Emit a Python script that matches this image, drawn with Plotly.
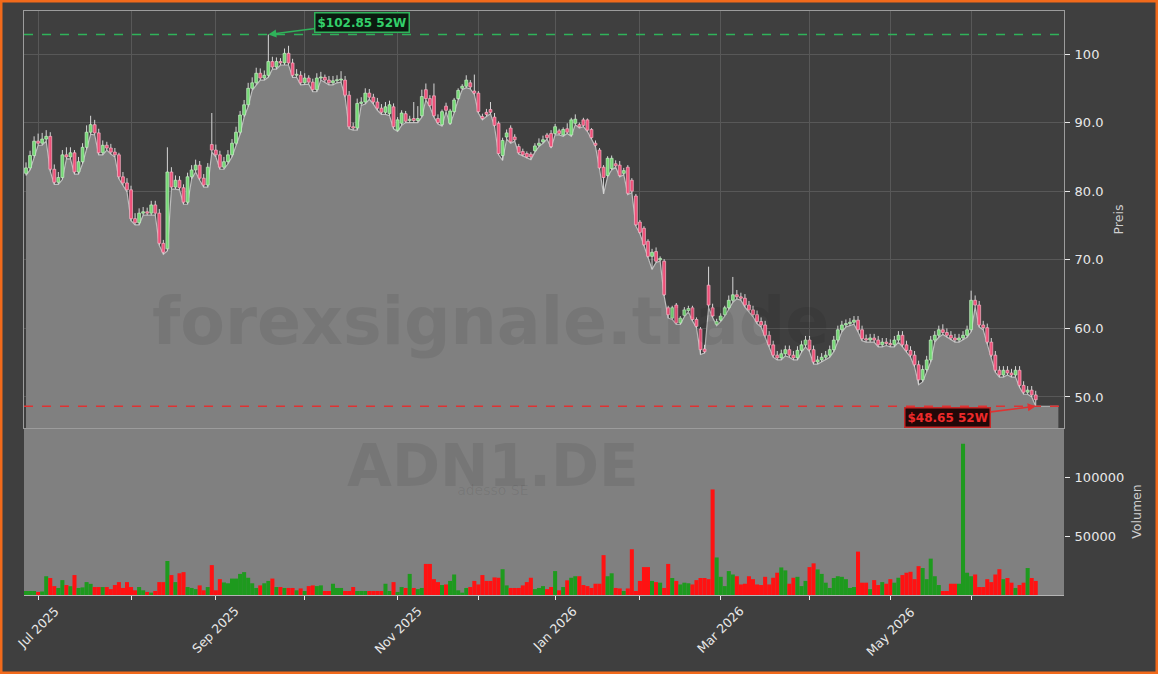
import numpy as np
import pandas as pd
import plotly.graph_objects as go

TICKER = "ADN1.DE"
COMPANY = "adesso SE"
WATERMARK = "forexsignale.trade"
START_DATE = "2025-06-26"
HOLIDAYS = ["2025-12-24", "2025-12-25", "2025-12-26", "2025-12-31",
            "2026-01-01", "2026-04-03", "2026-04-06", "2026-05-01"]

opens = [
    82.6, 83.4, 85.2, 87.3, 87.0, 87.6, 88.0, 83.2, 81.3, 82.0,
    85.3, 85.0, 85.6, 82.8, 84.3, 86.4, 88.6, 89.7, 88.5, 85.6,
    86.7, 86.3, 85.7, 85.3, 82.1, 81.2, 80.2, 76.0, 75.4, 76.8,
    77.0, 76.8, 78.0, 76.8, 72.4, 71.6, 82.8, 80.6, 81.6, 80.5,
    78.4, 82.1, 83.1, 83.8, 81.9, 80.9, 86.8, 86.0, 85.3, 83.5,
    84.3, 85.3, 87.0, 88.6, 91.1, 92.6, 95.0, 95.8, 97.2, 96.5,
    96.9, 98.9, 98.1, 98.9, 98.7, 100.1, 98.7, 96.9, 96.9, 95.8,
    96.5, 95.9, 94.8, 96.5, 96.6, 96.2, 95.8, 96.1, 96.2, 96.2,
    94.0, 89.4, 89.2, 92.8, 93.0, 94.3, 93.7, 93.0, 92.1, 91.5,
    91.3, 92.3, 88.9, 89.9, 91.3, 90.3, 90.6, 90.3, 91.0, 94.8,
    93.5, 93.9, 90.6, 89.7, 92.4, 89.9, 91.6, 93.5, 95.0, 95.3,
    95.8, 94.6, 94.3, 90.9, 91.5, 91.9, 90.8, 89.9, 85.2, 87.9,
    89.2, 87.9, 86.5, 85.8, 85.5, 85.4, 85.9, 86.7, 87.2, 88.2,
    88.4, 88.4, 88.8, 88.2, 89.1, 88.2, 89.9, 89.7, 90.4, 90.4,
    89.0, 87.0, 86.0, 83.5, 82.3, 83.3, 84.0, 83.8, 82.6, 83.5,
    81.6, 79.3, 75.5, 74.6, 72.7, 70.5, 71.2, 70.0, 69.8, 63.0,
    61.5, 63.4, 60.8, 61.9, 62.6, 63.0, 61.3, 59.9, 57.0, 66.3,
    63.0, 60.6, 61.2, 62.0, 63.0, 64.1, 64.9, 64.6, 64.4, 63.4,
    62.7, 62.0, 61.0, 60.5, 59.0, 57.6, 56.1, 55.7, 56.3, 56.9,
    56.1, 55.7, 56.8, 57.6, 58.3, 56.9, 55.1, 55.4, 55.8, 56.1,
    56.9, 58.3, 59.8, 60.5, 60.7, 60.9, 61.2, 59.8, 58.5, 58.3,
    58.6, 58.3, 57.6, 58.0, 57.8, 57.6, 58.3, 59.0, 57.6, 56.8,
    56.1, 54.7, 52.5, 54.0, 55.4, 58.3, 59.0, 59.8, 59.4, 59.0,
    58.6, 58.3, 58.6, 59.0, 59.8, 64.1, 63.4, 60.5, 60.1, 58.0,
    56.1, 53.9, 53.2, 53.9, 53.5, 53.2, 53.9, 51.7, 50.7, 51.0,
    50.3,
]

highs = [
    84.2, 85.9, 88.0, 88.4, 88.5, 88.9, 88.6, 83.9, 82.8, 86.0,
    86.4, 86.4, 86.0, 85.0, 87.0, 89.6, 91.0, 90.4, 89.1, 87.4,
    87.2, 86.9, 86.3, 85.6, 82.8, 81.9, 80.8, 76.8, 77.5, 77.7,
    77.6, 78.6, 78.6, 77.4, 72.9, 86.4, 83.5, 82.3, 82.2, 81.0,
    82.7, 83.8, 84.6, 84.4, 82.5, 84.1, 91.4, 86.8, 85.9, 85.0,
    86.0, 87.6, 89.4, 91.7, 93.3, 95.8, 96.6, 98.0, 97.9, 97.6,
    102.85, 99.6, 99.5, 99.4, 100.8, 101.2, 99.3, 97.8, 97.5, 97.2,
    96.9, 96.4, 97.2, 97.4, 97.0, 96.8, 96.8, 96.9, 97.5, 96.8,
    94.6, 90.0, 93.5, 93.7, 95.0, 94.9, 94.2, 93.6, 92.7, 93.0,
    93.2, 92.8, 90.8, 91.8, 91.7, 91.0, 93.0, 92.4, 94.8, 95.7,
    94.0, 95.7, 91.2, 91.9, 92.9, 92.0, 93.6, 95.0, 95.6, 96.9,
    96.2, 97.0, 94.6, 91.3, 92.0, 93.0, 91.4, 90.2, 87.8, 89.0,
    89.6, 88.3, 86.9, 86.2, 85.8, 85.7, 87.0, 87.7, 88.1, 88.5,
    88.9, 89.8, 89.1, 89.3, 89.9, 90.7, 91.2, 90.0, 90.7, 90.6,
    89.2, 87.4, 86.3, 83.8, 85.1, 85.2, 84.5, 84.4, 83.4, 83.8,
    81.9, 79.6, 75.8, 74.9, 73.0, 71.6, 71.8, 70.5, 70.1, 63.3,
    63.3, 63.7, 61.8, 63.1, 63.3, 63.3, 61.6, 60.2, 57.6, 69.0,
    63.6, 61.4, 62.2, 63.3, 64.8, 67.5, 65.6, 65.2, 65.0, 64.0,
    63.3, 62.6, 61.6, 61.1, 59.6, 58.2, 56.7, 56.9, 57.5, 57.5,
    56.7, 57.4, 58.2, 58.9, 58.9, 57.5, 56.0, 56.4, 56.7, 57.5,
    58.9, 60.4, 61.1, 61.3, 61.5, 61.8, 61.8, 60.4, 59.1, 59.2,
    59.2, 58.9, 58.6, 58.6, 58.4, 58.9, 59.6, 59.6, 58.2, 57.4,
    56.7, 55.3, 54.6, 56.0, 58.9, 59.6, 60.4, 60.6, 60.0, 59.6,
    59.2, 59.2, 59.6, 60.4, 65.5, 64.8, 64.0, 61.1, 60.7, 58.6,
    56.7, 54.5, 54.5, 54.5, 54.1, 54.5, 54.5, 52.3, 51.6, 51.6,
    50.9,
]

lows = [
    82.3, 83.1, 84.9, 86.7, 86.7, 87.3, 82.9, 81.0, 81.0, 81.7,
    84.7, 84.7, 82.5, 82.5, 84.0, 86.1, 88.3, 88.2, 85.3, 85.3,
    86.0, 85.4, 85.0, 81.8, 80.9, 79.9, 75.7, 75.1, 75.1, 76.5,
    76.5, 76.5, 76.5, 72.1, 70.8, 71.3, 80.3, 80.3, 80.2, 78.1,
    78.1, 81.8, 82.8, 81.6, 80.6, 80.6, 85.7, 85.0, 83.2, 83.2,
    84.0, 85.0, 86.7, 88.3, 90.8, 92.3, 94.7, 95.5, 96.2, 96.2,
    96.6, 97.8, 97.8, 98.4, 98.4, 98.4, 96.6, 96.6, 95.5, 95.5,
    95.6, 94.5, 94.5, 96.2, 95.9, 95.5, 95.5, 95.8, 95.9, 93.7,
    89.1, 88.9, 88.9, 92.5, 92.7, 93.4, 92.7, 91.8, 91.2, 91.2,
    91.0, 89.1, 88.7, 89.6, 90.0, 90.0, 90.0, 90.0, 90.8, 93.3,
    92.3, 90.8, 89.8, 89.5, 91.6, 89.7, 91.4, 93.3, 94.8, 95.1,
    94.9, 94.1, 91.4, 90.4, 90.9, 91.3, 89.4, 85.3, 84.5, 87.6,
    87.0, 87.3, 85.4, 85.1, 84.8, 84.6, 85.7, 86.5, 87.0, 87.6,
    86.3, 88.2, 88.2, 88.0, 88.4, 88.0, 89.7, 89.2, 89.4, 88.7,
    87.6, 86.5, 83.2, 79.6, 82.1, 83.1, 83.5, 82.1, 82.4, 79.5,
    79.8, 74.9, 73.8, 72.0, 70.3, 68.6, 69.6, 69.8, 64.7, 61.5,
    61.3, 60.6, 60.6, 61.7, 62.4, 61.1, 60.1, 56.2, 56.4, 63.0,
    61.6, 60.4, 61.0, 61.8, 62.8, 63.8, 64.3, 64.1, 63.1, 62.4,
    61.7, 60.7, 60.2, 58.7, 57.3, 55.8, 55.4, 55.4, 56.0, 55.8,
    55.4, 55.4, 56.5, 57.3, 56.6, 54.8, 54.8, 55.1, 55.5, 55.8,
    56.6, 58.0, 59.5, 60.2, 60.4, 60.6, 59.5, 58.2, 58.0, 58.0,
    58.0, 57.3, 57.3, 57.5, 57.3, 57.3, 58.0, 57.3, 56.5, 55.8,
    54.4, 51.8, 52.2, 53.7, 55.1, 58.0, 58.7, 59.1, 58.7, 58.3,
    58.0, 58.0, 58.3, 58.7, 59.5, 63.1, 60.2, 59.8, 57.7, 55.8,
    53.6, 52.9, 52.9, 53.2, 52.9, 52.9, 51.4, 50.4, 50.4, 50.0,
    48.65,
]

closes = [
    83.4, 85.2, 87.3, 87.0, 87.6, 88.0, 83.2, 81.3, 82.0, 85.3,
    85.0, 85.6, 82.8, 84.3, 86.4, 88.6, 89.7, 88.5, 85.6, 86.7,
    86.3, 85.7, 85.3, 82.1, 81.2, 80.2, 76.0, 75.4, 76.8, 77.0,
    76.8, 78.0, 76.8, 72.4, 71.1, 82.8, 80.6, 81.6, 80.5, 78.4,
    82.1, 83.1, 83.8, 81.9, 80.9, 83.5, 86.0, 85.3, 83.5, 84.3,
    85.3, 87.0, 88.6, 91.1, 92.6, 95.0, 95.8, 97.2, 96.5, 96.9,
    98.9, 98.1, 98.9, 98.7, 100.1, 98.7, 96.9, 96.9, 95.8, 96.5,
    95.9, 94.8, 96.5, 96.6, 96.2, 95.8, 96.1, 96.2, 96.2, 94.0,
    89.4, 89.2, 92.8, 93.0, 94.3, 93.7, 93.0, 92.1, 91.5, 92.3,
    92.6, 89.4, 90.4, 91.4, 90.2, 90.5, 90.3, 90.6, 93.8, 93.5,
    92.5, 91.0, 90.0, 91.6, 91.8, 91.7, 93.3, 94.7, 95.3, 96.2,
    95.2, 94.3, 91.6, 90.6, 91.2, 91.5, 89.6, 85.5, 87.4, 88.5,
    87.2, 87.5, 85.6, 85.3, 85.0, 85.0, 86.6, 87.0, 87.5, 87.8,
    86.5, 89.4, 88.4, 89.0, 88.6, 90.4, 90.5, 89.4, 89.6, 88.9,
    87.8, 86.7, 83.4, 82.0, 84.8, 84.8, 83.7, 82.3, 83.0, 79.7,
    80.0, 75.1, 74.0, 72.2, 70.5, 71.1, 69.8, 70.2, 64.9, 62.0,
    63.0, 60.8, 61.5, 62.7, 62.9, 61.3, 60.3, 56.9, 56.6, 63.4,
    61.8, 61.0, 61.8, 63.0, 64.1, 64.9, 64.6, 64.4, 63.4, 62.7,
    62.0, 61.0, 60.5, 59.0, 57.6, 56.1, 55.7, 56.3, 56.9, 56.1,
    55.7, 56.8, 57.6, 58.3, 56.9, 55.1, 55.4, 55.8, 56.1, 56.9,
    58.3, 59.8, 60.5, 60.7, 60.9, 61.2, 59.8, 58.5, 58.3, 58.6,
    58.3, 57.6, 58.0, 57.8, 57.6, 58.3, 59.0, 57.6, 56.8, 56.1,
    54.7, 52.5, 54.0, 55.4, 58.3, 59.0, 59.8, 59.4, 59.0, 58.6,
    58.3, 58.6, 59.0, 59.8, 64.1, 63.4, 60.5, 60.1, 58.0, 56.1,
    53.9, 53.2, 53.9, 53.5, 53.2, 53.9, 51.7, 50.7, 51.0, 50.3,
    49.6,
]

volumes = [
    3400, 3400, 3400, 2600, 3000, 16000, 14500, 7600, 6000, 12700,
    8500, 7500, 17000, 6000, 6500, 11000, 9500, 6800, 6800, 6800,
    6800, 5000, 8500, 11000, 6000, 11000, 6800, 4000, 6800, 4000,
    2600, 2000, 3400, 11000, 11000, 29000, 17000, 11000, 18500, 19500,
    6800, 6000, 5000, 8200, 4000, 6800, 25500, 4000, 13500, 10700,
    10000, 14000, 14000, 18000, 19500, 14700, 10000, 6000, 8200, 10000,
    12000, 14000, 6800, 6800, 6000, 6000, 6000, 4000, 5600, 3400,
    7600, 8200, 7600, 8200, 3400, 3400, 9600, 6000, 6000, 3400,
    3400, 6800, 3400, 3400, 3400, 3400, 3400, 3400, 3400, 9600,
    3400, 11000, 2600, 6800, 6000, 18000, 6000, 5000, 6000, 26500,
    26500, 13500, 11000, 8500, 9000, 12000, 17500, 4000, 2000, 6000,
    6800, 12000, 9000, 17000, 12000, 12000, 15000, 14700, 22000, 8200,
    6000, 6000, 6000, 8200, 11000, 14700, 5000, 6000, 7600, 5000,
    6800, 20400, 4000, 6800, 12500, 14700, 16000, 16000, 8500, 7600,
    6000, 9600, 9600, 34000, 16000, 18500, 6000, 5600, 3400, 5600,
    39000, 3400, 12000, 23800, 23800, 12000, 11000, 10500, 6000, 26500,
    14500, 12000, 9000, 10500, 10000, 9000, 12700, 14500, 14500, 13500,
    90000, 32000, 15500, 7600, 20400, 17500, 16000, 9000, 9600, 16000,
    13500, 9000, 8500, 15500, 9000, 14700, 19000, 23500, 21000, 9600,
    14700, 15500, 7600, 12000, 23800, 27000, 21800, 18000, 10500, 6000,
    14500, 16000, 15500, 13500, 6000, 6800, 37000, 10500, 10500, 5000,
    12700, 8500, 11000, 9600, 13500, 10500, 14700, 17000, 19000, 19800,
    13500, 24600, 23000, 13500, 31000, 16000, 8500, 3400, 3400, 9600,
    9600, 9600, 129000, 19000, 16000, 17500, 6800, 6800, 13500, 11000,
    17500, 22000, 13500, 14500, 10500, 6000, 8500, 10500, 23000, 14500,
    12000,
]

PRICE_TICKS = [50, 60, 70, 80, 90, 100]
PRICE_TICK_TEXT = ["50.0", "60.0", "70.0", "80.0", "90.0", "100"]
VOL_TICKS = [50000, 100000]
VOL_TICK_TEXT = ["50000", "100000"]

# ---------------------------------------------------------------------------
n = min(len(opens), len(highs), len(lows), len(closes), len(volumes))
o = np.array(opens[:n]); h = np.array(highs[:n]); l = np.array(lows[:n])
c = np.array(closes[:n]); v = np.array(volumes[:n])
idx = np.arange(n)

days = pd.bdate_range(START_DATE, periods=n + 5, freq="C",
                      holidays=pd.to_datetime(HOLIDAYS))[:n]
month_idx, month_txt = [], []
for i in range(1, n):
    if days[i].month != days[i - 1].month:
        month_idx.append(i)
        month_txt.append(days[i].strftime("%b %Y") if days[i].month % 2 == 1 else "")

hi_val = float(h.max()); hi_i = int(h.argmax())
lo_val = float(l.min()); lo_i = int(l.argmin())

BG = "#3f3f3f"
GRID = "#585858"
TXT = "#e8e8e8"
XR = [-0.5, n + 6.0]

XD = [24 / 1158, 1064 / 1158]
PY = [1 - 428 / 674, 1 - 11 / 674]
VY = [1 - 595 / 674, 1 - 428 / 674]

up = c >= o

fig = go.Figure()

# grey area under the lows
fx = list(idx) + [n + 4.6]
fy = list(l) + [lo_val]
fig.add_trace(go.Scatter(x=fx, y=fy, mode="lines", fill="tozeroy",
                         fillcolor="#808080", line=dict(color="#bdbdbd", width=1.2),
                         hoverinfo="skip", xaxis="x", yaxis="y"))

# wicks
wx, wy = [], []
for i in range(n):
    wx += [i, i, None]
    wy += [l[i], h[i], None]
fig.add_trace(go.Scatter(x=wx, y=wy, mode="lines", line=dict(color="#d6d6d6", width=1),
                         hoverinfo="skip", xaxis="x", yaxis="y"))

# candle bodies (filled rectangles)
HW = 0.36
for mask, fill, edge in [(up, "#74d874", "#c6eec6"), (~up, "#ee4f78", "#f4b6c6")]:
    bx, by = [], []
    for i in idx[mask]:
        b0 = min(o[i], c[i]); b1 = max(o[i], c[i])
        if b1 - b0 < 0.15:
            b1 = b0 + 0.15
        bx += [i - HW, i + HW, i + HW, i - HW, i - HW, None]
        by += [b0, b0, b1, b1, b0, None]
    fig.add_trace(go.Scatter(x=bx, y=by, mode="lines", fill="toself", fillcolor=fill,
                             line=dict(color=edge, width=0.7), hoverinfo="skip",
                             xaxis="x", yaxis="y"))

vcol = np.where(up, "#1e9a1e", "#ff1212")
fig.add_trace(go.Bar(x=idx, y=v, marker=dict(color=list(vcol), line=dict(width=0)),
                     width=1.0, xaxis="x2", yaxis="y2"))

shapes = [
    dict(type="rect", xref="x2 domain", yref="y2 domain", x0=0, x1=1, y0=0, y1=1,
         fillcolor="#808080", line=dict(width=0), layer="below"),
    dict(type="line", xref="x domain", yref="y", x0=0, x1=1, y0=hi_val, y1=hi_val,
         line=dict(color="#2fb35a", width=1.5, dash="dash")),
    dict(type="line", xref="x domain", yref="y", x0=0, x1=1, y0=lo_val, y1=lo_val,
         line=dict(color="#e03232", width=1.5, dash="dash")),
    dict(type="rect", xref="paper", yref="paper", x0=0, x1=1, y0=0, y1=1,
         line=dict(color="#f26a1b", width=5), fillcolor="rgba(0,0,0,0)", layer="above"),
]

annotations = [
    dict(text="<b>" + WATERMARK + "</b>", xref="paper", yref="paper", x=490 / 1158,
         y=1 - 322 / 674, xanchor="center", yanchor="middle", showarrow=False,
         font=dict(size=65, color="rgba(0,0,0,0.08)", family="DejaVu Sans")),
    dict(text="<span style='font-size:58px'><b>" + TICKER + "</b></span><br>"
              "<span style='font-size:14px'>" + COMPANY + "</span>",
         xref="paper", yref="paper", x=493 / 1158, y=1 - 466 / 674,
         xanchor="center", yanchor="middle", showarrow=False,
         font=dict(size=7, color="rgba(0,0,0,0.08)", family="DejaVu Sans")),
    dict(text="<b>$%.2f 52W</b>" % hi_val, x=hi_i, y=hi_val, xref="x", yref="y",
         ax=94, ay=-12, showarrow=True, arrowhead=2, arrowsize=1, arrowwidth=1.6,
         arrowcolor="#2fb35a", font=dict(size=12, color="#33d06a", family="DejaVu Sans"),
         bgcolor="#0c1a10", bordercolor="#2fb35a", borderwidth=1.5, borderpad=2),
    dict(text="<b>$%.2f 52W</b>" % lo_val, x=lo_i, y=lo_val, xref="x", yref="y",
         ax=-88, ay=11, showarrow=True, arrowhead=2, arrowsize=1, arrowwidth=1.6,
         arrowcolor="#e03232", font=dict(size=12, color="#ee2a2a", family="DejaVu Sans"),
         bgcolor="#220808", bordercolor="#c82828", borderwidth=1.5, borderpad=2),
]
for ti, tt in zip(month_idx, month_txt):
    if tt:
        annotations.append(dict(text=tt, x=ti, xref="x2", y=1 - 601 / 674, yref="paper",
                                xanchor="center", yanchor="top", textangle=-45,
                                showarrow=False, font=dict(size=12.5, color=TXT)))

fig.update_layout(
    width=1158, height=674, margin=dict(l=0, r=0, t=0, b=0),
    paper_bgcolor=BG, plot_bgcolor=BG, showlegend=False, barmode="overlay",
    font=dict(family="DejaVu Sans", color=TXT, size=13),
    shapes=shapes, annotations=annotations,
    xaxis=dict(domain=XD, range=XR, anchor="y", tickvals=month_idx,
               ticktext=[""] * len(month_idx), showticklabels=False, ticks="",
               showgrid=True, gridcolor=GRID, gridwidth=1, zeroline=False,
               showline=True, linecolor="#9c9c9c", linewidth=1, mirror=True),
    yaxis=dict(domain=PY, range=[45.48, 106.27], anchor="x", side="right",
               tickvals=PRICE_TICKS, ticktext=PRICE_TICK_TEXT, ticks="outside",
               ticklen=5, tickcolor=TXT, ticklabelstandoff=2,
               tickfont=dict(size=13, color=TXT),
               showgrid=True, gridcolor=GRID, gridwidth=1, zeroline=False,
               showline=True, linecolor="#9c9c9c", linewidth=1, mirror=True,
               title=dict(text="Preis", font=dict(size=12.5, color="#cfcfcf"), standoff=11)),
    xaxis2=dict(domain=XD, range=XR, anchor="y2", tickvals=month_idx,
                ticktext=[""] * len(month_idx), ticks="outside", ticklen=4,
                tickcolor=TXT, showgrid=False, zeroline=False,
                showline=True, linecolor="#b4b4b4", linewidth=1),
    yaxis2=dict(domain=VY, range=[0, 142400], anchor="x2", side="right",
                tickvals=VOL_TICKS, ticktext=VOL_TICK_TEXT, ticks="outside", ticklen=5,
                ticklabelstandoff=2, tickcolor=TXT, tickfont=dict(size=13, color=TXT),
                showgrid=False, zeroline=False, showline=False,
                title=dict(text="Volumen", font=dict(size=12.5, color="#cfcfcf"), standoff=9)),
)

fig.write_html("out.html", config={"displayModeBar": False},
               post_script="document.body.style.margin='0';document.body.style.overflow='hidden';")
